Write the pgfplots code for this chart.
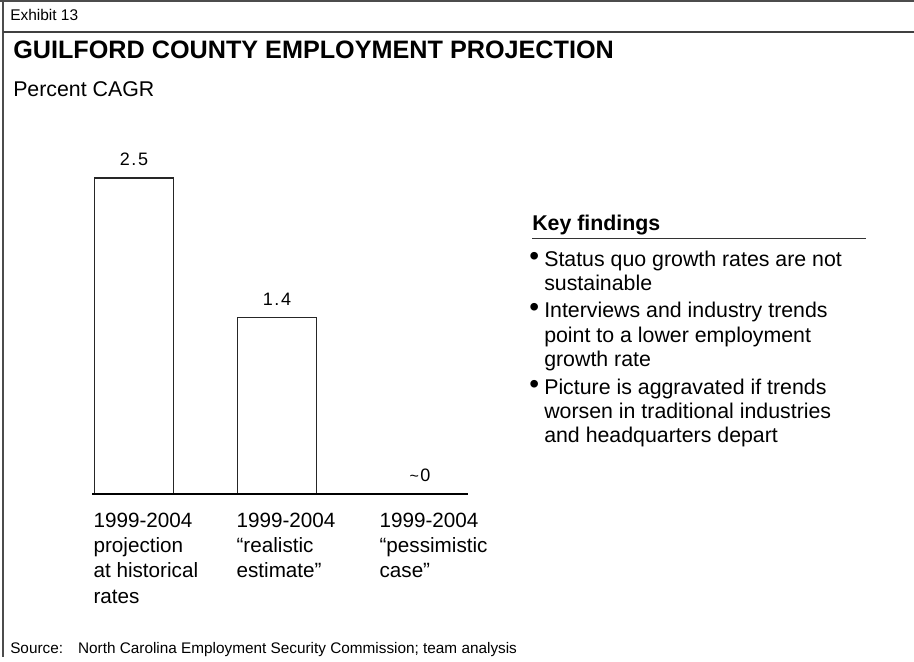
\documentclass[border=0pt]{standalone}
\usepackage{fontspec}
\setmainfont{Liberation Sans}
\usepackage{pgfplots}
\pgfplotsset{compat=1.18}
\begin{document}
\begin{tikzpicture}
\useasboundingbox (0,0) rectangle (685.5pt,495.75pt);
\begin{scope}[x=0.75pt,y=-0.75pt,yshift=495.75pt]
\draw[line width=1.5pt, black!70] (0,1) -- (914,1);
\draw[line width=1.8pt, black!70] (3,1) -- (3,657);
\draw[line width=1.5pt, black!75] (3,32) -- (914,32);
\node[anchor=base west, inner sep=0pt, font=\fontsize{11.6}{14}\selectfont] at (10,21) {Exhibit 13};
\node[anchor=base west, inner sep=0pt, font=\fontsize{18.9}{22}\selectfont\bfseries] at (13,59) {GUILFORD COUNTY EMPLOYMENT PROJECTION};
\node[anchor=base west, inner sep=0pt, font=\fontsize{16}{19}\selectfont] at (13,97) {Percent CAGR};
\node[anchor=base west, inner sep=0pt, font=\fontsize{16}{19}\selectfont\bfseries] at (532,231) {Key findings};
\draw[line width=0.75pt, black!80] (532,239) -- (866,239);
\begin{scope}[every node/.style={anchor=base west, inner sep=0pt, font=\fontsize{16}{19}\selectfont}]
\node[font=\fontsize{21}{22}\selectfont] at (529,266) {•};
\node at (544,267) {Status quo growth rates are not};
\node at (544,291) {sustainable};
\node[font=\fontsize{21}{22}\selectfont] at (529,317) {•};
\node at (544,318) {Interviews and industry trends};
\node at (544,343) {point to a lower employment};
\node at (544,367) {growth rate};
\node[font=\fontsize{21}{22}\selectfont] at (529,394) {•};
\node at (544,395) {Picture is aggravated if trends};
\node at (544,419) {worsen in traditional industries};
\node at (544,443) {and headquarters depart};
\end{scope}
\node[anchor=base west, inner sep=0pt, font=\fontsize{11.5}{14}\selectfont] at (10,653) {Source:\hspace{7pt} North Carolina Employment Security Commission; team analysis};
\end{scope}
\begin{axis}[
  at={(69pt,125.25pt)}, anchor=south west,
  scale only axis, width=282pt, height=284.4pt,
  xmin=-0.2937, xmax=2.3357, ymin=0, ymax=3,
  axis on top,
  axis x line*=bottom, axis y line=none,
  x axis line style={-, line width=2.2pt, black},
  ytick=\empty,
  xtick={0,1,2},
  xticklabels={{1999-2004\\projection\\at historical\\rates},{1999-2004\\“realistic\\estimate”},{1999-2004\\“pessimistic\\case”}},
  xtick style={draw=none},
  xticklabel style={anchor=north west, align=left, inner sep=0pt, xshift=-30.5pt, yshift=-9.5pt, font=\fontsize{15.5}{19}\selectfont},
  ybar, bar width=59.25pt,
  clip=false,
  nodes near coords, point meta=explicit symbolic,
  every node near coord/.append style={anchor=south, inner sep=0pt, yshift=8.5pt, font=\fontsize{13.5}{15}\selectfont},
]
\addplot[draw=black!85, fill=white, line width=0.8pt] coordinates {(0,2.5) [2\kern1.3pt.\kern1.3pt5] (1,1.4) [1\kern1.3pt.\kern1.3pt4] (2,0) [{\fontsize{12}{12}\selectfont\textasciitilde}\kern1pt0]};
\end{axis}
\end{tikzpicture}
\end{document}
